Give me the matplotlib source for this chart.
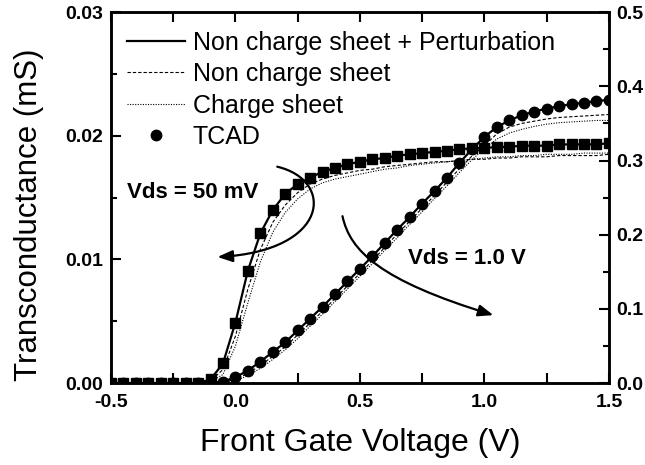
import matplotlib
matplotlib.use("Agg")
import matplotlib.pyplot as plt
from matplotlib.path import Path
from matplotlib.patches import FancyArrowPatch
from matplotlib.lines import Line2D
from matplotlib.ticker import MultipleLocator

plt.rcParams['font.family'] = ['Liberation Sans', 'DejaVu Sans']
plt.rcParams['axes.unicode_minus'] = False

# front gate voltage sweep (V)
vg = [-0.50, -0.45, -0.40, -0.35, -0.30, -0.25, -0.20, -0.15, -0.10, -0.05,
      0.00, 0.05, 0.10, 0.15, 0.20, 0.25, 0.30, 0.35, 0.40, 0.45,
      0.50, 0.55, 0.60, 0.65, 0.70, 0.75, 0.80, 0.85, 0.90, 0.95,
      1.00, 1.05, 1.10, 1.15, 1.20, 1.25, 1.30, 1.35, 1.40, 1.45, 1.50]

# Vds = 50 mV, left axis (mS)
gm50_tcad = [0, 0, 0, 0, 0, 0, 0, 0, 0.0003, 0.0016,
             0.0049, 0.0091, 0.0121, 0.0140, 0.0153, 0.0161, 0.0166, 0.0171, 0.0174, 0.0177,
             0.0179, 0.0181, 0.0182, 0.0184, 0.0185, 0.0186, 0.0187, 0.0188, 0.0189, 0.0190,
             0.0190, 0.0191, 0.0191, 0.0192, 0.0192, 0.0192, 0.0193, 0.0193, 0.0193, 0.0193, 0.0194]
gm50_pert = gm50_tcad
gm50_ncs = [0, 0, 0, 0, 0, 0, 0, 0, 0.0002, 0.0011,
            0.0038, 0.0076, 0.0108, 0.0130, 0.0144, 0.0154, 0.0161, 0.0165, 0.0168, 0.0170,
            0.0172, 0.0173, 0.0175, 0.0176, 0.0177, 0.0178, 0.0179, 0.0179, 0.0180, 0.0181,
            0.0181, 0.0182, 0.0182, 0.0183, 0.0183, 0.0183, 0.0184, 0.0184, 0.0184, 0.0184, 0.0185]
gm50_cs = [0, 0, 0, 0, 0, 0, 0, 0, 0.0001, 0.0007,
           0.0030, 0.0065, 0.0098, 0.0122, 0.0138, 0.0149, 0.0157, 0.0162, 0.0165, 0.0167,
           0.0169, 0.0171, 0.0173, 0.0174, 0.0176, 0.0177, 0.0178, 0.0179, 0.0180, 0.0181,
           0.0182, 0.0183, 0.0183, 0.0184, 0.0184, 0.0185, 0.0185, 0.0185, 0.0186, 0.0186, 0.0186]

# Vds = 1.0 V, right axis (mS)
gm10_tcad = [0, 0, 0, 0, 0, 0, 0, 0, 0, 0.002,
             0.008, 0.017, 0.029, 0.042, 0.055, 0.071, 0.087, 0.103, 0.120, 0.137,
             0.154, 0.171, 0.189, 0.207, 0.224, 0.242, 0.259, 0.277, 0.297, 0.315,
             0.332, 0.345, 0.354, 0.361, 0.366, 0.370, 0.373, 0.376, 0.378, 0.380, 0.382]
gm10_pert = gm10_tcad
gm10_ncs = [0, 0, 0, 0, 0, 0, 0, 0, 0, 0.001,
            0.005, 0.013, 0.024, 0.036, 0.049, 0.065, 0.081, 0.097, 0.114, 0.131,
            0.148, 0.165, 0.183, 0.201, 0.218, 0.236, 0.253, 0.271, 0.289, 0.306,
            0.320, 0.336, 0.345, 0.350, 0.353, 0.356, 0.358, 0.359, 0.360, 0.361, 0.362]
gm10_cs = [0, 0, 0, 0, 0, 0, 0, 0, 0, 0.0005,
           0.003, 0.010, 0.020, 0.032, 0.045, 0.060, 0.077, 0.093, 0.110, 0.127,
           0.144, 0.161, 0.179, 0.196, 0.214, 0.231, 0.249, 0.266, 0.284, 0.301,
           0.316, 0.329, 0.337, 0.342, 0.346, 0.349, 0.351, 0.352, 0.353, 0.354, 0.354]

DASH = (0, (3, 1.8))
DOT = (0, (1, 1.3))

fig = plt.figure(figsize=(6.45, 4.65), dpi=100)
ax = fig.add_axes([0.172, 0.176, 0.772, 0.798])
ax2 = ax.twinx()

ax.plot(vg, gm50_ncs, color='k', lw=0.8, ls=DASH)
ax.plot(vg, gm50_cs, color='k', lw=0.8, ls=DOT)
ax.plot(vg, gm50_pert, color='k', lw=1.6)
ax.plot(vg, gm50_tcad, 'ks', ms=7, lw=0)

ax2.plot(vg, gm10_ncs, color='k', lw=0.8, ls=DASH)
ax2.plot(vg, gm10_cs, color='k', lw=0.8, ls=DOT)
ax2.plot(vg, gm10_pert, color='k', lw=1.6)
ax2.plot(vg, gm10_tcad, 'ko', ms=7.5, lw=0)

ax.set_xlim(-0.5, 1.5)
ax.set_ylim(0, 0.03)
ax2.set_ylim(0, 0.5)

ax.xaxis.set_major_locator(MultipleLocator(0.5))
ax.xaxis.set_minor_locator(MultipleLocator(0.25))
ax.yaxis.set_major_locator(MultipleLocator(0.01))
ax.yaxis.set_minor_locator(MultipleLocator(0.005))
ax2.yaxis.set_major_locator(MultipleLocator(0.1))
ax2.yaxis.set_minor_locator(MultipleLocator(0.05))
ax.yaxis.set_major_formatter(plt.FormatStrFormatter('%.2f'))
ax2.yaxis.set_major_formatter(plt.FormatStrFormatter('%.1f'))

for a in (ax, ax2):
    for s in a.spines.values():
        s.set_linewidth(1.8)
ax.tick_params(axis='x', which='both', direction='in', top=True, width=1.5, pad=8, length=7)
ax.tick_params(axis='y', which='both', direction='in', right=False, width=1.5, pad=5.5)
ax.tick_params(axis='y', which='major', length=7)
ax.tick_params(axis='y', which='minor', length=4)
ax2.tick_params(axis='y', which='both', direction='in', width=1.5, pad=5.5)
ax2.tick_params(axis='y', which='major', length=7)
ax2.tick_params(axis='y', which='minor', length=4)
for lab in ax.get_xticklabels() + ax.get_yticklabels() + ax2.get_yticklabels():
    lab.set_fontsize(14)
    lab.set_fontweight('bold')

ax.set_xlabel('Front Gate Voltage (V)', fontsize=23, labelpad=12)
ax.set_ylabel('Transconductance (mS)', fontsize=22.5)
ax.yaxis.set_label_coords(-0.134, 0.453)

handles = [Line2D([], [], color='k', lw=1.6),
           Line2D([], [], color='k', lw=0.8, ls=DASH),
           Line2D([], [], color='k', lw=0.8, ls=DOT),
           Line2D([], [], color='k', marker='o', ms=7.5, lw=0)]
labels = ['Non charge sheet + Perturbation', 'Non charge sheet', 'Charge sheet', 'TCAD']
ax2.legend(handles, labels, loc='upper left', bbox_to_anchor=(0.032, 0.95),
           frameon=False, fontsize=18, handlelength=2.32, handletextpad=0.32,
           labelspacing=0.3, borderaxespad=0, borderpad=0)

# curved arrows marking the two drain biases
arr50 = Path([(0.168, 0.0175), (0.40, 0.0164), (0.38, 0.0107), (-0.072, 0.0102)],
             [Path.MOVETO, Path.CURVE4, Path.CURVE4, Path.CURVE4])
ax.add_patch(FancyArrowPatch(path=arr50, arrowstyle='-|>,head_length=9,head_width=3.5',
                             color='k', lw=1.6, transform=ax.transData))
arr10 = Path([(0.43, 0.0135), (0.46, 0.0107), (0.58, 0.0083), (1.036, 0.0055)],
             [Path.MOVETO, Path.CURVE4, Path.CURVE4, Path.CURVE4])
ax.add_patch(FancyArrowPatch(path=arr10, arrowstyle='-|>,head_length=9,head_width=3.5',
                             color='k', lw=1.6, transform=ax.transData))

ax.text(-0.437, 0.0154, 'Vds = 50 mV', fontsize=16, fontweight='bold', va='center')
ax.text(0.695, 0.0101, 'Vds = 1.0 V', fontsize=16, fontweight='bold', va='center')

fig.savefig('out.png', dpi=100)
